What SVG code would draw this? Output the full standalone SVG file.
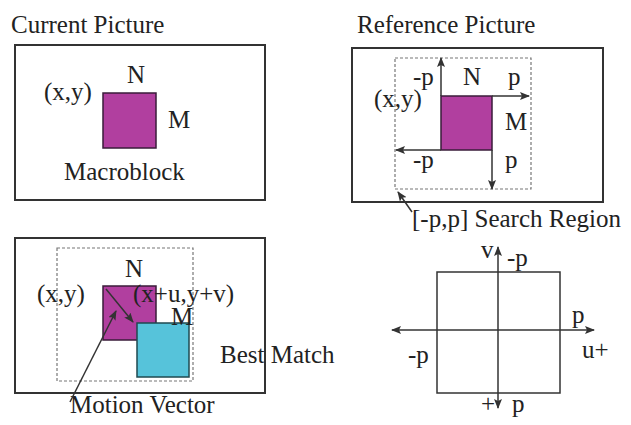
<svg xmlns="http://www.w3.org/2000/svg" width="631" height="425" viewBox="0 0 631 425">
<style>
.t{font-family:'Liberation Serif', 'DejaVu Serif', serif;font-size:25px;fill:#222}
.box{fill:none;stroke:#333;stroke-width:2}
.dash{fill:none;stroke:#777;stroke-width:1.2;stroke-dasharray:3 2}
.mb{fill:#b13f9f;stroke:#3a1c3a;stroke-width:1.5}
.bm{fill:#56c3da;stroke:#1f4a50;stroke-width:1.5}
.ln{fill:none;stroke:#333;stroke-width:1.5}
.arr{fill:none;stroke:#333;stroke-width:1.5;marker-end:url(#ah)}
.arr2{fill:none;stroke:#333;stroke-width:1.5;marker-end:url(#ah);marker-start:url(#ahs)}
</style>
<defs>
<marker id="ah" markerUnits="userSpaceOnUse" markerWidth="10" markerHeight="8" refX="9" refY="4" orient="auto"><path d="M0,0 L10,4 L0,8 L2,4 Z" fill="#333"/></marker>
<marker id="ahs" markerUnits="userSpaceOnUse" markerWidth="10" markerHeight="8" refX="1" refY="4" orient="auto"><path d="M10,0 L0,4 L10,8 L8,4 Z" fill="#333"/></marker>
</defs>
<rect width="631" height="425" fill="#fff"/>

<g id="current-picture" class="t" font-family="Liberation Serif, serif">
<text x="11" y="33">Current Picture</text>
<rect class="box" x="15" y="45" width="250" height="155"/>
<rect class="mb" x="103" y="93" width="53" height="55"/>
<text x="44" y="100">(x,y)</text>
<text x="127" y="83">N</text>
<text x="168" y="128">M</text>
<text x="64" y="180">Macroblock</text>
</g>

<g id="reference-picture" class="t" font-family="Liberation Serif, serif">
<text x="357" y="33">Reference Picture</text>
<rect class="box" x="352" y="48" width="251" height="154"/>
<rect class="dash" x="395" y="58" width="136" height="131"/>
<rect class="mb" x="441" y="96" width="51" height="54"/>
<text x="413" y="85">-p</text>
<text x="463" y="85">N</text>
<text x="508" y="85">p</text>
<text x="374" y="107">(x,y)</text>
<text x="505" y="130">M</text>
<text x="413" y="168">-p</text>
<text x="505" y="168">p</text>
<text x="412" y="227">[-p,p] Search Region</text>
</g>

<g id="best-match" class="t" font-family="Liberation Serif, serif">
<rect class="box" x="15" y="238" width="250" height="155"/>
<rect class="dash" x="57" y="248" width="136" height="133"/>
<rect class="mb" x="103" y="286" width="53" height="54"/>
<rect class="bm" x="137" y="323" width="52" height="54"/>
<text x="125" y="277">N</text>
<text x="37" y="302">(x,y)</text>
<text x="133" y="302">(x+u,y+v)</text>
<text x="171" y="325">M</text>
<text x="220" y="363">Best Match</text>
<text x="70" y="413">Motion Vector</text>
</g>

<g id="search-range" class="t" font-family="Liberation Serif, serif">
<rect class="ln" x="437" y="272" width="123" height="121"/>
<text x="481" y="258">v</text>
<text x="507" y="266">-p</text>
<text x="572" y="323">p</text>
<text x="408" y="363">-p</text>
<text x="582" y="358">u+</text>
<text x="481" y="412">+</text>
<text x="512" y="412">p</text>
</g>

<g id="connectors">
<line class="arr" x1="441" y1="96" x2="441" y2="58"/>
<line class="arr" x1="492" y1="96" x2="529" y2="96"/>
<line class="arr" x1="441" y1="150" x2="396" y2="150"/>
<line class="arr" x1="492" y1="150" x2="492" y2="189"/>
<line class="arr" x1="412" y1="212" x2="398" y2="192"/>
<line class="arr" x1="106" y1="289" x2="133" y2="322"/>
<line class="arr" x1="70" y1="402" x2="116" y2="311"/>
<line class="arr2" x1="498" y1="408" x2="498" y2="247"/>
<line class="arr2" x1="392" y1="330" x2="594" y2="330"/>
</g>
</svg>
